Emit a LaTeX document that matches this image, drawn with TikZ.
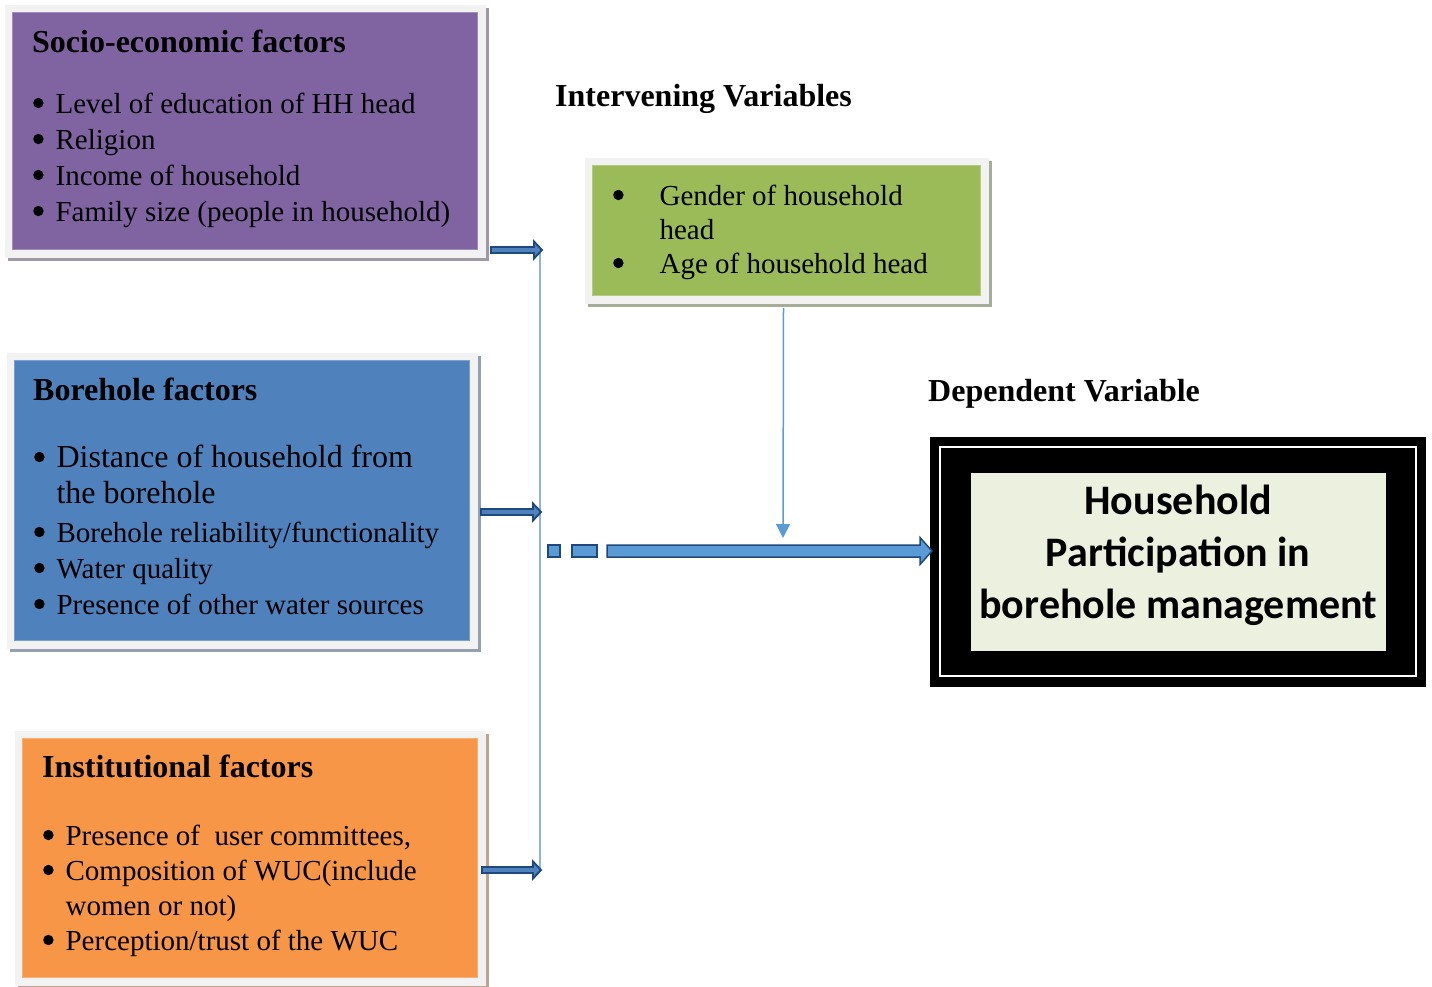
\documentclass[tikz,border=0pt]{standalone}
\usepackage{fontspec}
\setmainfont{Liberation Serif}
\newfontfamily\calibri{Carlito}
\usepackage{tikz}
\usetikzlibrary{calc,positioning,arrows.meta}
\definecolor{socio}{HTML}{8064A2}
\definecolor{bore}{HTML}{4F81BD}
\definecolor{inst}{HTML}{F79646}
\definecolor{interv}{HTML}{9BBB59}
\definecolor{depfill}{HTML}{EBF1DE}
\definecolor{framegray}{HTML}{F2F2F2}
\definecolor{arrowdark}{HTML}{1F497D}
\definecolor{arrowfill}{HTML}{5B9BD5}
\definecolor{busblue}{HTML}{8DB3E2}
\tikzset{
  factor/.style={rectangle, fill=#1, draw=#1!75!white, line width=1pt, inner sep=0pt,
                 anchor=north west,
                 preaction={draw=#1!30!gray!75!white, line width=16pt,
                            transform canvas={shift={(3.5pt,-3.5pt)}}},
                 preaction={draw=framegray, line width=16pt}},
  headtext/.style={inner sep=0pt, anchor=base west, font=\fontsize{32}{38}\selectfont\bfseries},
  itemtext/.style={inner sep=0pt, anchor=base west, align=left, font=\fontsize{29}{36}\selectfont},
  smallarr/.style={draw=arrowdark, line width=1.9pt, fill=bore, line join=miter},
  bigarr/.style={draw=arrowdark, line width=1.5pt, fill=arrowfill, line join=miter},
  busline/.style={draw=busblue, line width=1.5pt},
  downarr/.style={draw=arrowfill, line width=1.5pt, -{Triangle[width=14pt,length=14pt]}}
}
% round list bullet
\newcommand{\bul}{\tikz[baseline=-10pt]\fill (0pt,0pt) circle (5.2pt);}
% block arrow: style, from, to, half shaft, half head, head length
\newcommand{\blockarr}[6]{%
  \draw[#1] let \p1=(#2), \p2=(#3) in
    (\x1,\y1+#4) -- (\x2-#6,\y1+#4) -- (\x2-#6,\y1+#5) -- (\x2,\y1)
    -- (\x2-#6,\y1-#5) -- (\x2-#6,\y1-#4) -- (\x1,\y1-#4) -- cycle;}
\begin{document}
\begin{tikzpicture}[x=1pt,y=-1pt]
\useasboundingbox (0,0) rectangle (1432,986);

% independent variables
\node[factor=socio, minimum width=465pt, minimum height=237pt] (socio) at (12,12) {};
\node[headtext] (sociohead) at (32,52) {Socio-economic factors};
\node[itemtext] (sociolist) at (33,113) {\begin{tabular}[t]{@{}l@{\hspace{12pt}}l@{}}
  \bul & Level of education of HH head\\
  \bul & Religion\\
  \bul & Income of household\\
  \bul & Family size (people in household)
\end{tabular}};

\node[factor=bore, minimum width=455pt, minimum height=280pt] (bore) at (14,360) {};
\node[headtext] (borehead) at (33,400) {Borehole factors};
\node[itemtext] (borelist) at (34,467) {\begin{tabular}[t]{@{}l@{\hspace{12pt}}l@{}}
  \bul & {\fontsize{32}{36}\selectfont Distance of household from}\\
       & {\fontsize{32}{36}\selectfont the borehole}\\[3pt]
  \bul & Borehole reliability/functionality\\
  \bul & Water quality\\
  \bul & Presence of other water sources
\end{tabular}};

\node[factor=inst, minimum width=455pt, minimum height=239pt] (inst) at (22,738) {};
\node[headtext] (insthead) at (42,777) {Institutional factors};
\node[itemtext, font=\fontsize{29}{35}\selectfont] (instlist) at (43,845) {\begin{tabular}[t]{@{}l@{\hspace{12pt}}l@{}}
  \bul & Presence of\ \ user committees,\\
  \bul & Composition of WUC(include\\
       & women or not)\\
  \bul & Perception/trust of the WUC
\end{tabular}};

% intervening variables
\node[headtext] (intervlabel) at (555,106) {Intervening Variables};
\node[factor=interv, minimum width=388pt, minimum height=130pt] (interv) at (592,165) {};
\node[itemtext, font=\fontsize{29}{34}\selectfont] (intervlist) at (613,205) {\begin{tabular}[t]{@{}l@{\hspace{36pt}}l@{}}
  \bul & Gender of household\\
       & head\\
  \bul & Age of household head
\end{tabular}};

% dependent variable
\node[headtext] (deplabel) at (928,401) {Dependent Variable};
\node[fill=black, minimum width=496pt, minimum height=250pt, inner sep=0pt, anchor=north west] (dep) at (930,437) {};
\draw[white, line width=2pt] ($(dep.north west)+(10,10)$) rectangle ($(dep.south east)+(-10,-11)$);
\node[fill=depfill, minimum width=415pt, minimum height=178pt, inner sep=0pt] (depin) at (dep.center) {};
\node[inner sep=0pt, align=center, font=\fontsize{42}{52}\selectfont\calibri\bfseries] (deptext)
  at ($(depin.center)+(0,-7)$) {Household\\ Participation in\\ borehole management};

% connectors
\coordinate (busA) at (540,249);
\coordinate (busB) at (540,512);
\coordinate (busC) at (540,870);
\draw[busline] (busA) -- (busC);
\blockarr{smallarr}{$(socio.south east)+(13,0)$}{$(busA)+(2,0)$}{3pt}{8.5pt}{8pt}
\blockarr{smallarr}{$(bore.east |- busB)+(11,0)$}{$(busB)+(1,0)$}{3pt}{8.5pt}{8pt}
\blockarr{smallarr}{$(inst.east |- busC)+(4,0)$}{$(busC)+(1,0)$}{3pt}{8.5pt}{8pt}

\coordinate (dashA) at (548,551);
\draw[bigarr] ($(dashA)+(0,-6)$) rectangle ++(12,12);
\draw[bigarr] ($(dashA)+(24,-6)$) rectangle ++(25,12);
\blockarr{bigarr}{$(dashA)+(59,0)$}{$(dashA -| dep.west)+(2,0)$}{6pt}{13.5pt}{12pt}

\coordinate (meet) at (783,538);
\draw[downarr] ($(interv.south)+(-3,12)$) -- (meet);
\end{tikzpicture}
\end{document}
